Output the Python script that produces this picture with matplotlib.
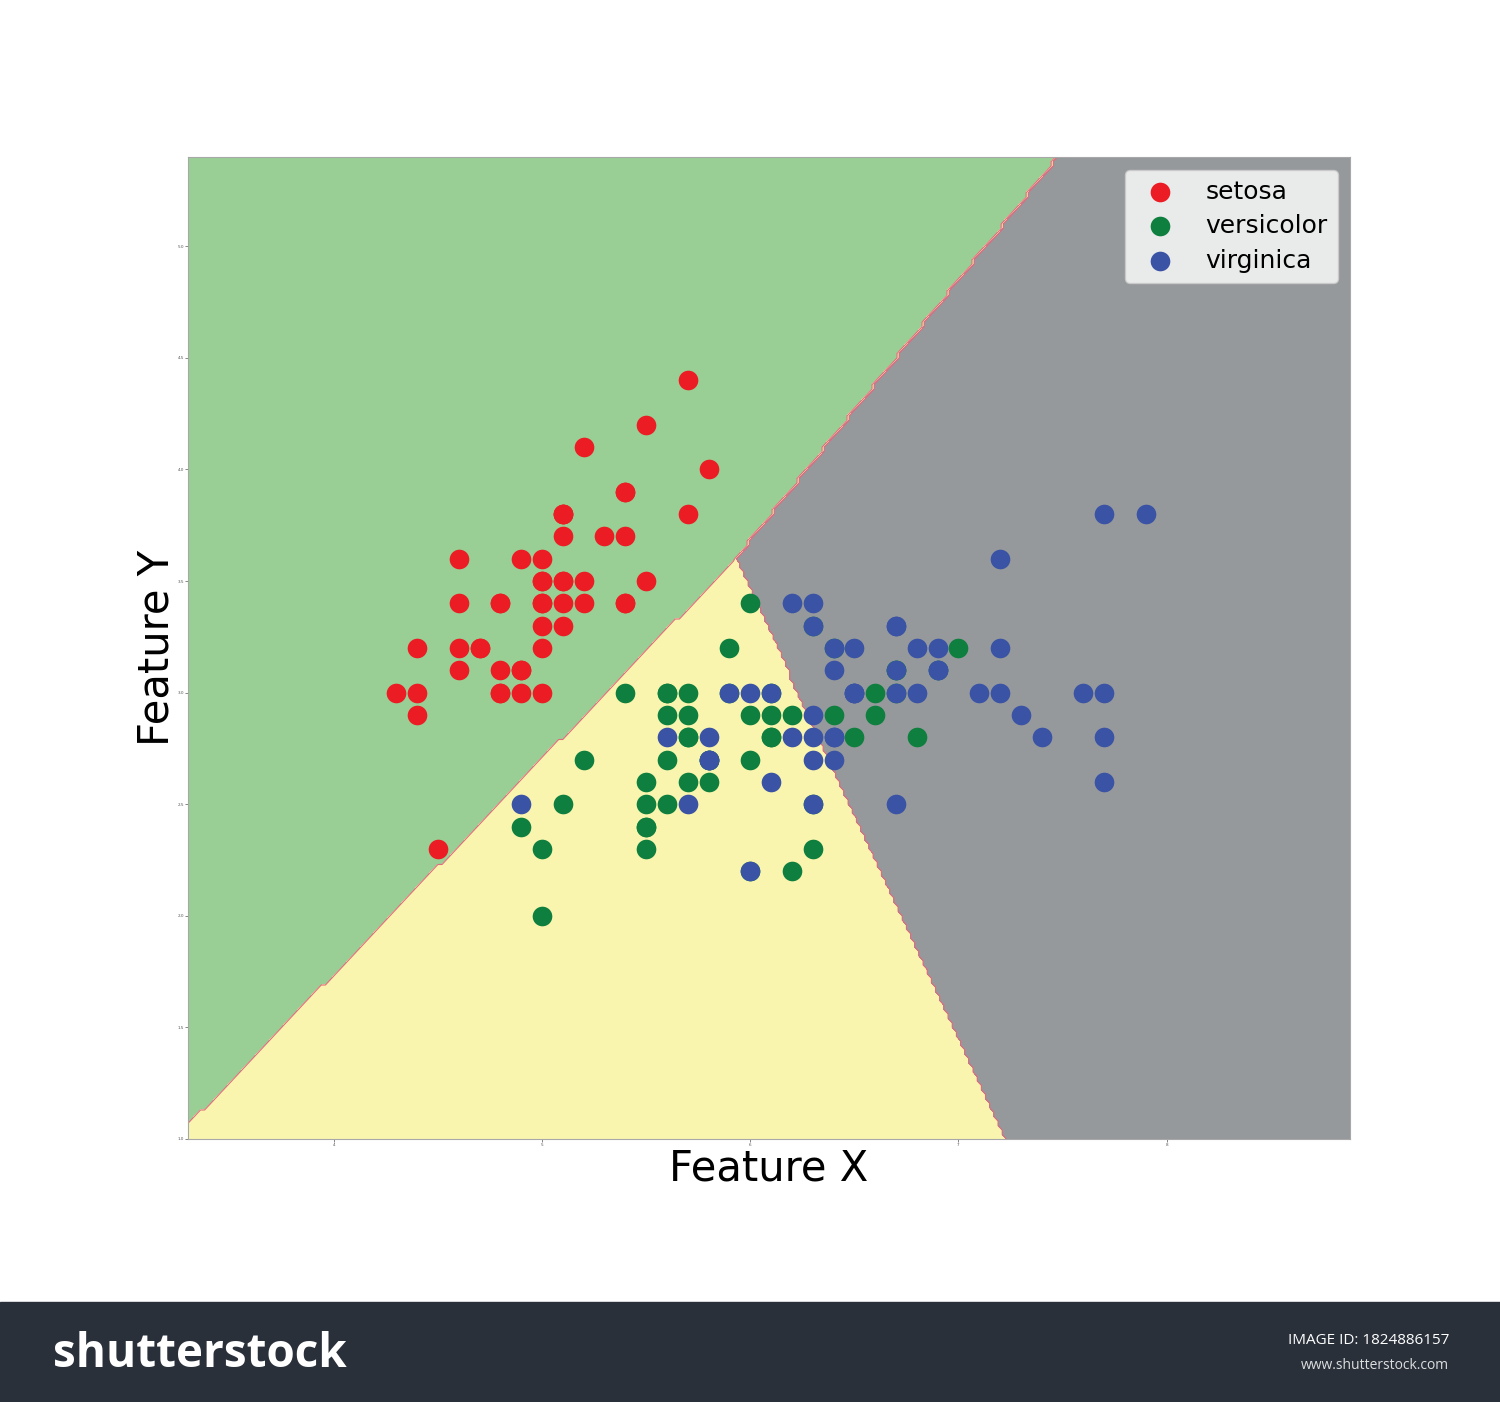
import numpy as np
import matplotlib
matplotlib.use("Agg")
import matplotlib.pyplot as plt

# iris sepal length / sepal width
species = ["setosa", "versicolor", "virginica"]

setosa_x = [5.1, 4.9, 4.7, 4.6, 5.0, 5.4, 4.6, 5.0, 4.4, 4.9, 5.4, 4.8, 4.8, 4.3, 5.8, 5.7, 5.4,
            5.1, 5.7, 5.1, 5.4, 5.1, 4.6, 5.1, 4.8, 5.0, 5.0, 5.2, 5.2, 4.7, 4.8, 5.4, 5.2, 5.5,
            4.9, 5.0, 5.5, 4.9, 4.4, 5.1, 5.0, 4.5, 4.4, 5.0, 5.1, 4.8, 5.1, 4.6, 5.3, 5.0]
setosa_y = [3.5, 3.0, 3.2, 3.1, 3.6, 3.9, 3.4, 3.4, 2.9, 3.1, 3.7, 3.4, 3.0, 3.0, 4.0, 4.4, 3.9,
            3.5, 3.8, 3.8, 3.4, 3.7, 3.6, 3.3, 3.4, 3.0, 3.4, 3.5, 3.4, 3.2, 3.1, 3.4, 4.1, 4.2,
            3.1, 3.2, 3.5, 3.6, 3.0, 3.4, 3.5, 2.3, 3.2, 3.5, 3.8, 3.0, 3.8, 3.2, 3.7, 3.3]

versicolor_x = [7.0, 6.4, 6.9, 5.5, 6.5, 5.7, 6.3, 4.9, 6.6, 5.2, 5.0, 5.9, 6.0, 6.1, 5.6, 6.7, 5.6,
                5.8, 6.2, 5.6, 5.9, 6.1, 6.3, 6.1, 6.4, 6.6, 6.8, 6.7, 6.0, 5.7, 5.5, 5.5, 5.8, 6.0,
                5.4, 6.0, 6.7, 6.3, 5.6, 5.5, 5.5, 6.1, 5.8, 5.0, 5.6, 5.7, 5.7, 6.2, 5.1, 5.7]
versicolor_y = [3.2, 3.2, 3.1, 2.3, 2.8, 2.8, 3.3, 2.4, 2.9, 2.7, 2.0, 3.0, 2.2, 2.9, 2.9, 3.1, 3.0,
                2.7, 2.2, 2.5, 3.2, 2.8, 2.5, 2.8, 2.9, 3.0, 2.8, 3.0, 2.9, 2.6, 2.4, 2.4, 2.7, 2.7,
                3.0, 3.4, 3.1, 2.3, 3.0, 2.5, 2.6, 3.0, 2.6, 2.3, 2.7, 3.0, 2.9, 2.9, 2.5, 2.8]

virginica_x = [6.3, 5.8, 7.1, 6.3, 6.5, 7.6, 4.9, 7.3, 6.7, 7.2, 6.5, 6.4, 6.8, 5.7, 5.8, 6.4, 6.5,
               7.7, 7.7, 6.0, 6.9, 5.6, 7.7, 6.3, 6.7, 7.2, 6.2, 6.1, 6.4, 7.2, 7.4, 7.9, 6.4, 6.3,
               6.1, 7.7, 6.3, 6.4, 6.0, 6.9, 6.7, 6.9, 5.8, 6.8, 6.7, 6.7, 6.3, 6.5, 6.2, 5.9]
virginica_y = [3.3, 2.7, 3.0, 2.9, 3.0, 3.0, 2.5, 2.9, 2.5, 3.6, 3.2, 2.7, 3.0, 2.5, 2.8, 3.2, 3.0,
               3.8, 2.6, 2.2, 3.2, 2.8, 2.8, 2.7, 3.3, 3.2, 2.8, 3.0, 2.8, 3.0, 2.8, 3.8, 2.8, 2.8,
               2.6, 3.0, 3.4, 3.1, 3.0, 3.1, 3.1, 3.1, 2.7, 3.2, 3.3, 3.0, 2.5, 3.0, 3.4, 3.0]

# linear class scores (w_x, w_y, b), estimated from the boundaries in the picture
score_wx = [-0.965, 0.0, 0.1266]
score_wy = [1.0, 0.0, 0.063]
score_b = [2.122, 0.0, -0.9777]

point_colors = ["#EC1C24", "#0E7F3E", "#3A53A4"]
region_colors = ["#99CF95", "#F9F5AE", "#96999C"]

xs = [setosa_x, versicolor_x, virginica_x]
ys = [setosa_y, versicolor_y, virginica_y]

fig = plt.figure(figsize=(15, 14.02), dpi=100)
ax = fig.add_axes([0.1253, 0.1876, 0.7747, 0.7004])

all_x = np.concatenate([np.array(v) for v in xs])
all_y = np.concatenate([np.array(v) for v in ys])
x_min, x_max = all_x.min() - 1, all_x.max() + 1
y_min, y_max = all_y.min() - 1, all_y.max() + 1
h = 0.02
xx, yy = np.meshgrid(np.arange(x_min, x_max, h), np.arange(y_min, y_max + h, h))
scores = np.stack([score_wx[k] * xx + score_wy[k] * yy + score_b[k] for k in range(3)])
Z = scores.argmax(axis=0)

ax.contourf(xx, yy, Z, levels=[-0.5, 0.5, 1.5, 2.5], colors=region_colors)
ax.contour(xx, yy, Z, levels=[0.5, 1.5], colors="#E06A80", linewidths=0.8)

for k in range(3):
    ax.scatter(xs[k], ys[k], s=200, c=point_colors[k], linewidths=0, label=species[k], zorder=3)

ax.set_xlim(xx.min(), xx.max())
ax.set_ylim(y_min, y_max)
ax.set_xticks([4, 5, 6, 7, 8])
ax.set_yticks(np.arange(1.0, 5.01, 0.5))
ax.tick_params(labelsize=3, length=2, width=0.5, pad=1, colors="#555555")
for sp in ax.spines.values():
    sp.set_color("#A8A8A8")

ax.set_xlabel("Feature X", fontsize=30, labelpad=0)
ax.set_ylabel("Feature Y", fontsize=30, labelpad=0)
ax.legend(loc="upper right", fontsize=18, labelspacing=0.42)

# footer band
fig.patches.append(plt.Rectangle((0, 0), 1, 100 / 1402, transform=fig.transFigure,
                                 color="#29303A", zorder=0))
fig.text(0.035, 0.034, "shutterstock", color="white", fontsize=33, fontweight="bold",
         va="center", family="Open Sans")
fig.text(0.966, 0.044, "IMAGE ID: 1824886157", color="white", fontsize=11,
         ha="right", va="center", family="Open Sans")
fig.text(0.966, 0.026, "www.shutterstock.com", color="#DDDDDD", fontsize=10,
         ha="right", va="center", family="Open Sans")

fig.savefig("out.png", dpi=100)
